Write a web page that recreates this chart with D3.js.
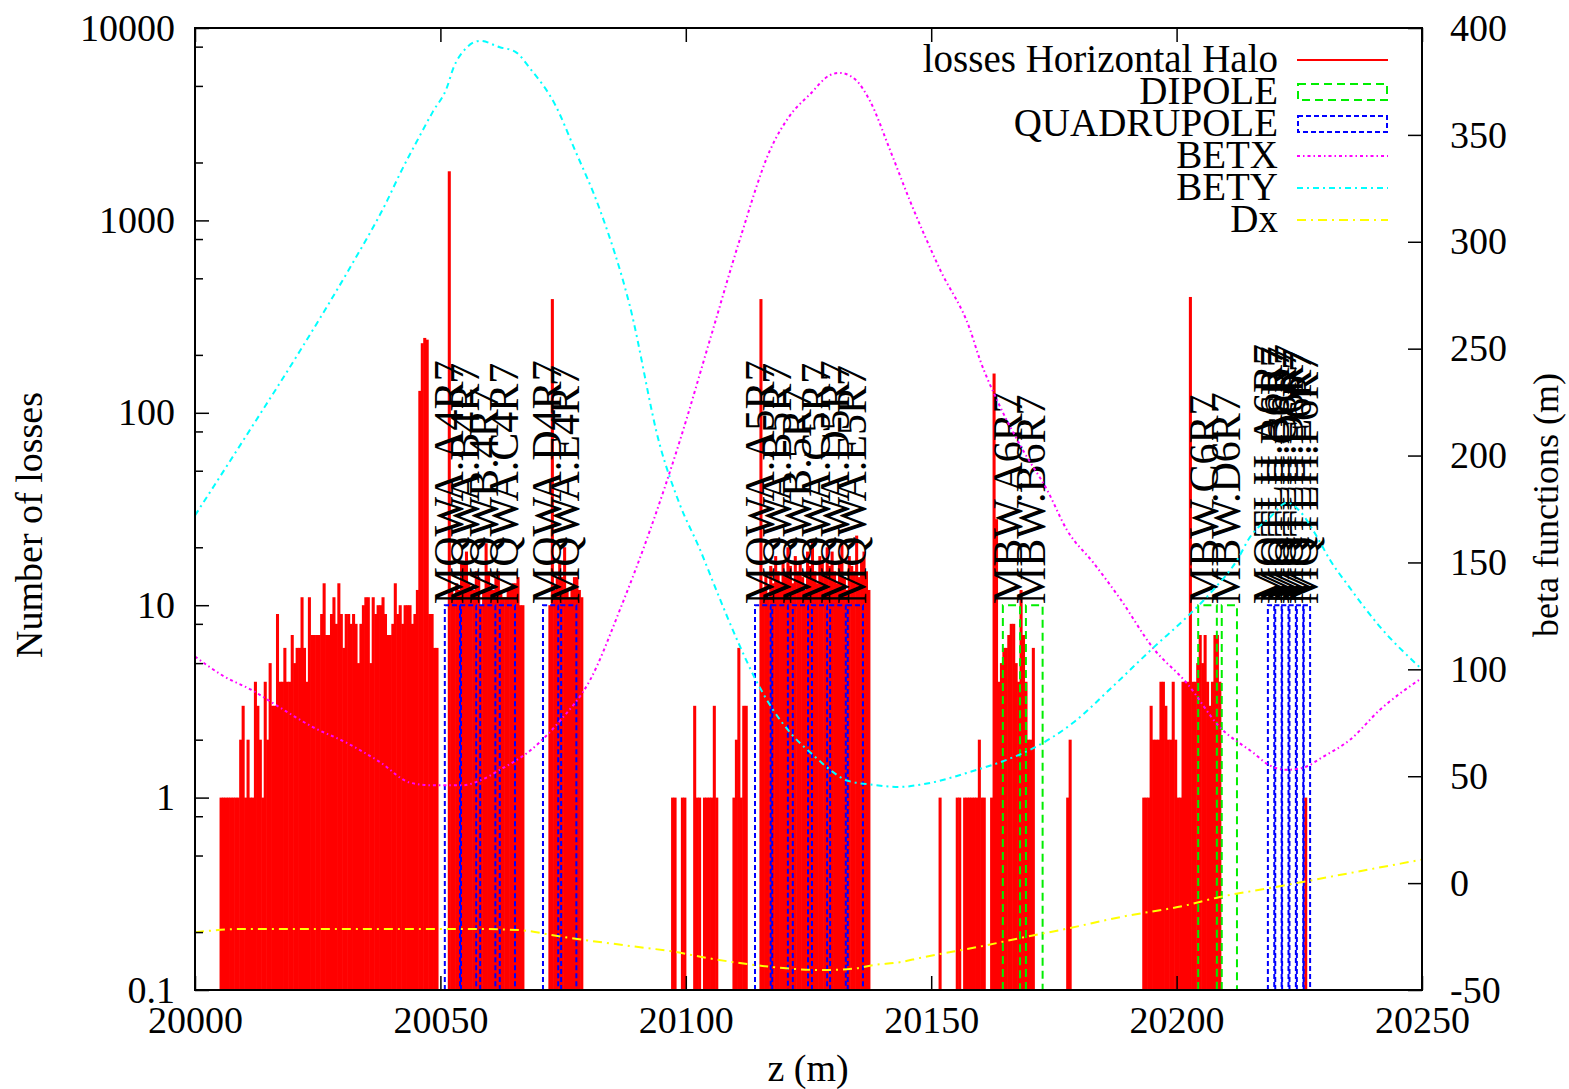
<!DOCTYPE html>
<html>
<head>
<meta charset="utf-8">
<script src="https://cdn.jsdelivr.net/npm/d3@7/dist/d3.min.js"></script>
<style>
  body { margin: 0; background: #fff; }
  text { font-family: "Liberation Serif", "Times New Roman", serif; fill: #000; }
</style>
</head>
<body>
<svg id="chart" width="1569" height="1089"></svg>
<script>
// ---- data ----
const binWidth = 0.5;
// loss histogram, runs of 0.5 m bins: first bin z and counts
const lossRunStart = [20005.0, 20051.5, 20072.0, 20097.0, 20115.0, 20151.5, 20177.5, 20193.0, 20226.0];
const lossRunCounts = [
  [1,1,1,1,1,1,1,1,2,3, 1,2,1,1,4,3,2,1,4,2, 5,3,3,9,4,4,6,4,4,7, 5,6,6,11,6,4,11,7,7,7,
   7,9,13,7,7,9,11,8,13,9, 6,9,9,8,9,8,5,8,10,11, 11,5,11,9,10,10,11,9,7,7, 8,13,9,10,8,10,10,10,8,9,
   12,130,230,245,240,9,9,6,6],
  [1800,12,11,13,12,17,17,19,13,12,12,15,14,10,12,21,15,12,12,14,15,12,11,11,12,12,13,13,14,10,10],
  [10,390,12,14,17,14,20,12,11,12,14,14,12,11],
  [1,1,0,0,1,1,0,0,0,3,1,1,0,1,1,1,1,3,1,0,0,0,0,0,0,1,2,6,1,3,3],
  [390,12,14,11,16,13,18,15,13,17,14,20,16,13,18,15,17,14,12,19,16,22,15,13,18,17,14,20,16,19,
   15,13,17,21,14,12,18,16,15,23,14,17,19,15,12],
  [1,0,0,0,0,0,0,1,1,0,1,1,1,1,1,1,2,1,1,0,0,1,160,28,4,5,6,6,7,8,8,5,4,12,7,4,2,2,6],
  [1,2],
  [1,1,1,3,2,2,2,4,4,3,2,2,4,2,1,1,4,4,4,400,4,4,5,7,5,7,4,3,4,7,7,4],
  [1]
];

const dipoleName = ["MBW.A6R7", "MBW.B6R7", "MBW.C6R7", "MBW.D6R7"];
const dipoleStart = [20164.6, 20169.3, 20204.4, 20209.2];
const dipoleEnd = [20168.1, 20172.7, 20208.2, 20212.3];

const quadName = ["MQWA.A4R7", "MQWA.B4R7", "MQWB.4R7", "MQWA.C4R7", "MQWA.D4R7", "MQWA.E4R7",
  "MQWA.A5R7", "MQWA.B5R7", "MQWB.5R7", "MQWA.C5R7", "MQWA.D5R7", "MQWA.E5R7",
  "MQTLH.A6R7", "MQTLH.B6R7", "MQTLH.C6R7", "MQTLH.D6R7", "MQTLH.E6R7", "MQTLH.F6R7"];
const quadStart = [20050.9, 20054.2, 20058.1, 20062.1, 20070.9, 20074.6,
  20114.1, 20117.6, 20121.8, 20125.7, 20129.4, 20133.0,
  20218.6, 20220.1, 20221.5, 20223.0, 20224.5, 20225.9];
const quadEnd = [20054.0, 20057.3, 20061.2, 20065.2, 20074.0, 20077.7,
  20117.3, 20120.8, 20124.9, 20128.8, 20132.6, 20136.1,
  20219.9, 20221.4, 20222.8, 20224.3, 20225.8, 20227.2];
const magnetHeight = 10;

const betxZ = [20000, 20005.7, 20011.8, 20016.7, 20024.0, 20031.0, 20037.7, 20043.8, 20047.9, 20054.6,
  20058.1, 20062.1, 20068.3, 20074.4, 20080.5, 20086.6, 20092.7, 20098.8, 20104.9, 20111.0,
  20117.2, 20121.2, 20125.3, 20129.4, 20131.4, 20134.5, 20137.5, 20141.6, 20145.7, 20151.8,
  20157.9, 20159.9, 20163.4, 20168.7, 20173.6, 20177.7, 20183.0, 20188.5, 20195.2, 20202.1,
  20208.8, 20215.6, 20219.0, 20222.5, 20225.8, 20229.8, 20235.3, 20241.4, 20250];
const betxV = [106, 97, 90, 83, 73, 65.5, 56.6, 47, 45.8, 45.8,
  48, 53, 62, 76, 95, 128, 165, 207, 254, 301,
  343, 359, 369, 378, 379, 376, 366, 343, 319, 287,
  259, 245, 226, 202.5, 184, 165, 150, 133, 110, 93.5,
  73, 61, 55, 53, 54, 59, 67, 81, 96];

const betyZ = [20000, 20011.2, 20021.4, 20031.6, 20039.1, 20041.8, 20045.2, 20048.5, 20051.3, 20052.6,
  20055.0, 20058.1, 20062.1, 20065.2, 20068.3, 20073.4, 20077.4, 20082.5, 20088.6, 20094.7,
  20098.8, 20102.9, 20106.4, 20110.6, 20114.5, 20117.8, 20121.8, 20125.9, 20129.4, 20132.8,
  20138.1, 20143.6, 20147.7, 20159.3, 20164.6, 20170.7, 20178.9, 20187.0, 20195.2, 20202.1,
  20207.4, 20212.3, 20215.0, 20219.0, 20222.5, 20225.1, 20228.6, 20231.3, 20234.7, 20241.4, 20250];
const betyV = [172, 212, 249, 288, 319, 332, 347, 361, 372, 381,
  390, 394, 391, 389, 381, 364, 343, 315, 270, 205,
  177, 156, 136, 113, 94, 81, 69, 60, 53, 48,
  46, 45, 46, 53, 57, 63, 75, 92, 110, 124.5,
  137, 151, 162, 171, 178, 174, 162, 151, 140, 120, 100];

const dxZ = [20000, 20009.2, 20031.6, 20058.1, 20066.2, 20074.4, 20090.7, 20097.4, 20104.3, 20111.0,
  20117.8, 20128.0, 20134.9, 20138.1, 20143.6, 20147.7, 20161.4, 20168.1, 20178.3, 20188.5,
  20202.1, 20208.8, 20219.0, 20235.3, 20250];
const dxV = [-23, -21.5, -21.5, -21.5, -22, -25, -30, -32, -35, -37.4,
  -39.3, -40.7, -39.8, -38.4, -37, -35, -29, -25.7, -21, -15.9,
  -10.3, -6.5, -2.3, 4.7, 11];

const xTicks = [20000, 20050, 20100, 20150, 20200, 20250];
const yTicks = [0.1, 1, 10, 100, 1000, 10000];
const y2Ticks = [-50, 0, 50, 100, 150, 200, 250, 300, 350, 400];

// ---- layout ----
const L = 195, R = 1422, T = 28, B = 990;
const svg = d3.select("#chart");
const x = d3.scaleLinear().domain([20000, 20250]).range([L, R]);
const yLoss = d3.scaleLog().domain([0.1, 10000]).range([B, T]);
const yBeta = d3.scaleLinear().domain([-50, 400]).range([B, T]);

svg.append("defs").append("clipPath").attr("id", "plotclip")
  .append("rect").attr("x", L).attr("y", T).attr("width", R - L).attr("height", B - T);

// losses histogram
const bins = [];
lossRunStart.forEach((z0, r) => {
  lossRunCounts[r].forEach((n, i) => {
    if (n > 0) bins.push({ z: z0 + i * binWidth, n: n });
  });
});
svg.append("g").selectAll("rect").data(bins).join("rect")
  .attr("x", d => x(d.z))
  .attr("width", d => x(d.z + binWidth) - x(d.z) + 0.6)   // small overlap so neighbours don't seam
  .attr("y", d => yLoss(d.n))
  .attr("height", d => yLoss(0.1) - yLoss(d.n))
  .attr("fill", "#ff0000");

// magnet names
function magnetLabels(names, starts, ends) {
  svg.append("g").selectAll("text").data(names).join("text")
    .attr("transform", (d, i) => `translate(${x((starts[i] + ends[i]) / 2) - 4},${yLoss(magnetHeight) - 1}) rotate(-90)`)
    .attr("dy", "0.35em")
    .attr("font-size", 42)
    .text(d => d);
}
magnetLabels(quadName, quadStart, quadEnd);
magnetLabels(dipoleName, dipoleStart, dipoleEnd);

// magnet boxes
function magnetBoxes(starts, ends, color, dash) {
  svg.append("g").selectAll("path").data(starts).join("path")
    .attr("d", (d, i) => `M${x(d)},${B}V${yLoss(magnetHeight)}H${x(ends[i])}V${B}`)
    .attr("fill", "none")
    .attr("stroke", color)
    .attr("stroke-width", 2)
    .attr("stroke-dasharray", dash);
}
magnetBoxes(dipoleStart, dipoleEnd, "#00ee00", "8,5");
magnetBoxes(quadStart, quadEnd, "#0000ff", "5,3");

// optics lines
const optics = [
  { z: betxZ, v: betxV, color: "#ff00ff", dash: "3,3,1.5,3" },
  { z: betyZ, v: betyV, color: "#00ffff", dash: "6,4,2,4" },
  { z: dxZ, v: dxV, color: "#ffff00", dash: "9,5,2,5" }
];
const line = d3.line().curve(d3.curveMonotoneX)
  .x(d => x(d[0])).y(d => yBeta(d[1]));
optics.forEach(o => {
  svg.append("path")
    .attr("clip-path", "url(#plotclip)")
    .attr("d", line(o.z.map((z, i) => [z, o.v[i]])))
    .attr("fill", "none")
    .attr("stroke", o.color)
    .attr("stroke-width", 2)
    .attr("stroke-dasharray", o.dash);
});

// axes
const minorTicks = [];
[0.1, 1, 10, 100, 1000].forEach(p => [2, 5, 8].forEach(m => minorTicks.push(p * m)));

svg.append("g").attr("transform", `translate(${L},0)`)
  .call(d3.axisLeft(yLoss).tickValues(yTicks).tickFormat(d => String(d)).tickSizeInner(-14).tickSizeOuter(0).tickPadding(20));
svg.append("g").attr("transform", `translate(${L},0)`)
  .call(d3.axisLeft(yLoss).tickValues(minorTicks).tickFormat("").tickSizeInner(-8).tickSizeOuter(0));
svg.append("g").attr("transform", `translate(${R},0)`)
  .call(d3.axisRight(yBeta).tickValues(y2Ticks).tickFormat(d => String(d)).tickSizeInner(-14).tickSizeOuter(0).tickPadding(28));
svg.append("g").attr("transform", `translate(0,${B})`)
  .call(d3.axisBottom(x).tickValues(xTicks).tickFormat(d => String(d)).tickSizeInner(-14).tickSizeOuter(0).tickPadding(16));
svg.append("g").attr("transform", `translate(0,${T})`)
  .call(d3.axisTop(x).tickValues(xTicks).tickFormat("").tickSizeInner(-14).tickSizeOuter(0));

svg.selectAll(".domain").remove();
svg.selectAll(".tick line").attr("stroke", "#000").attr("stroke-width", 1.5);
svg.selectAll(".tick text").attr("font-family", "Liberation Serif").attr("font-size", 38).attr("fill", "#000");

svg.append("rect").attr("x", L).attr("y", T).attr("width", R - L).attr("height", B - T)
  .attr("fill", "none").attr("stroke", "#000").attr("stroke-width", 2);

// axis titles
svg.append("text").attr("transform", "translate(42,525) rotate(-90)")
  .attr("text-anchor", "middle").attr("font-size", 38).text("Number of losses");
svg.append("text").attr("x", 808).attr("y", 1081)
  .attr("text-anchor", "middle").attr("font-size", 38).text("z (m)");
svg.append("text").attr("transform", "translate(1558,505) rotate(-90)")
  .attr("text-anchor", "middle").attr("font-size", 36).text("beta functions (m)");

// legend
const legendItems = [
  { label: "losses Horizontal Halo", type: "line", color: "#ff0000", dash: null },
  { label: "DIPOLE", type: "box", color: "#00ee00", dash: "8,5" },
  { label: "QUADRUPOLE", type: "box", color: "#0000ff", dash: "5,3" },
  { label: "BETX", type: "line", color: "#ff00ff", dash: "3,3,1.5,3" },
  { label: "BETY", type: "line", color: "#00ffff", dash: "6,4,2,4" },
  { label: "Dx", type: "line", color: "#ffff00", dash: "9,5,2,5" }
];
const lg = svg.append("g");
legendItems.forEach((it, i) => {
  const yc = 60 + i * 32;
  lg.append("text").attr("x", 1278).attr("y", yc + 12).attr("text-anchor", "end")
    .attr("font-size", 39).text(it.label);
  if (it.type === "box") {
    lg.append("rect").attr("x", 1298).attr("y", yc - 8).attr("width", 89).attr("height", 16)
      .attr("fill", "none").attr("stroke", it.color).attr("stroke-width", 2)
      .attr("stroke-dasharray", it.dash);
  } else {
    lg.append("line").attr("x1", 1297).attr("x2", 1388).attr("y1", yc).attr("y2", yc)
      .attr("stroke", it.color).attr("stroke-width", 2)
      .attr("stroke-dasharray", it.dash);
  }
});
</script>
</body>
</html>
